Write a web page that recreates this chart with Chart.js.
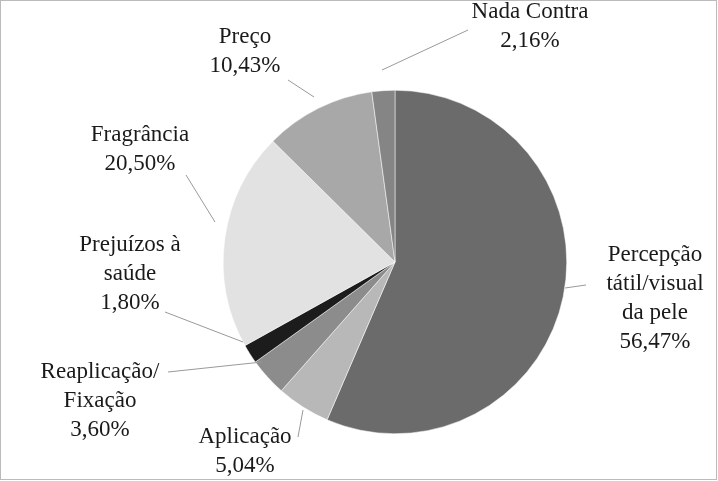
<!DOCTYPE html>
<html><head><meta charset="utf-8">
<script src="https://cdn.jsdelivr.net/npm/chart.js@4/dist/chart.umd.min.js"></script>
<style>html,body{margin:0;padding:0;background:#fff}#w{width:718px;height:481px}</style>
</head><body><div id="w"><canvas id="c"></canvas></div>
<script>
const categories = ["Percepção tátil/visual da pele","Aplicação","Reaplicação/ Fixação","Prejuízos à saúde","Fragrância","Preço","Nada Contra"];
const values = [56.47,5.04,3.60,1.80,20.50,10.43,2.16];
const labelLines = [["Percepção","tátil/visual","da pele","56,47%"],["Aplicação","5,04%"],["Reaplicação/","Fixação","3,60%"],["Prejuízos à","saúde","1,80%"],["Fragrância","20,50%"],["Preço","10,43%"],["Nada Contra","2,16%"]];
const colors = ["#6b6b6b","#b8b8b8","#8c8c8c","#1c1c1c","#e2e2e2","#a8a8a8","#858585"];
const layout = [
 {x:655,y:255,l:[586,285,565,288]},
 {x:245,y:437,l:[298,437,303,410]},
 {x:100,y:372,l:[168,372,262,362]},
 {x:130,y:245,l:[165,312,243,342]},
 {x:140,y:135,l:[186,175,215,222]},
 {x:245,y:37,l:[288,80,314,97]},
 {x:530,y:12,l:[468,30,382,70]}
];
const labelPlugin = {id:'lbl', afterDraw(ch){
  const ctx=ch.ctx; ctx.save();
  ctx.font='23px "Times New Roman", "Liberation Serif", Tinos, "DejaVu Serif", serif';
  ctx.fillStyle='#1a1a1a'; ctx.textAlign='center'; ctx.textBaseline='middle';
  ctx.strokeStyle='#999'; ctx.lineWidth=1;
  layout.forEach((p,i)=>{
    ctx.beginPath(); ctx.moveTo(p.l[0],p.l[1]); ctx.lineTo(p.l[2],p.l[3]); ctx.stroke();
    labelLines[i].forEach((t,j)=>ctx.fillText(t,p.x,p.y+j*29));
  });
  ctx.strokeStyle='#bbb'; ctx.strokeRect(0.5,0.5,716,479);
  ctx.restore();
}};
new Chart(document.getElementById('c'),{
 type:'pie',
 data:{labels:categories,datasets:[{data:values,backgroundColor:colors,borderColor:'#ffffff',borderWidth:0.5}]},
 options:{responsive:true,maintainAspectRatio:false,animation:false,
  layout:{padding:{top:90,bottom:47,left:72,right:0}},
  plugins:{legend:{display:false},tooltip:{enabled:false}}},
 plugins:[labelPlugin]
});
</script></body></html>
